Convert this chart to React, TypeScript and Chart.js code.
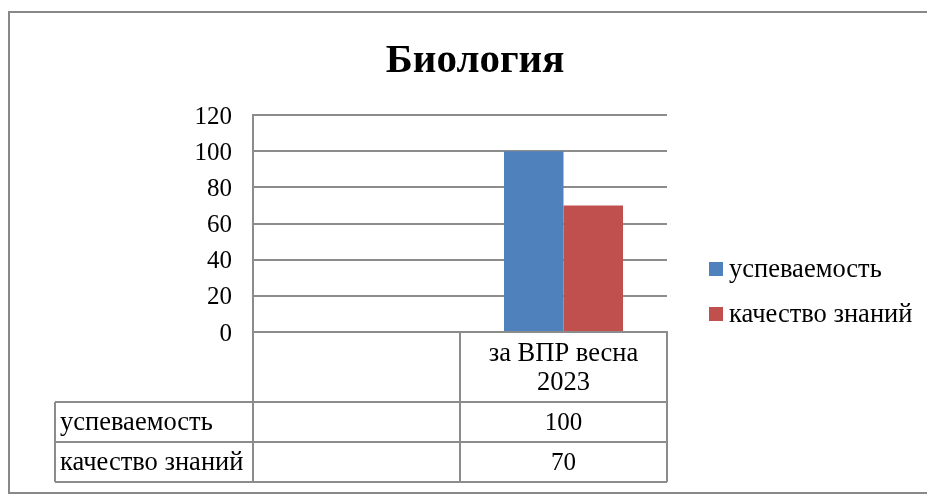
import { useEffect, useRef } from 'react';
import { Chart, registerables } from 'chart.js';

Chart.register(...registerables);

const TITLE = 'Биология';
const categories: (string | string[])[] = ['', ['за ВПР весна', '2023']];
const seriesNames = ['успеваемость', 'качество знаний'];
const uspevaemost: (number | null)[] = [null, 100];
const kachestvo: (number | null)[] = [null, 70];
const yMin = 0;
const yMax = 120;
const yStep = 20;
const seriesColors = ['#4F81BD', '#C0504D'];

const FONT = "'Liberation Serif', 'DejaVu Serif', 'Times New Roman', serif";
const GRID = '#8C8C8C';
const TXT = 26.5;
const NUM = 25;

const tablePlugin = {
  id: 'tableLegendFrame',
  afterDraw(chart: any) {
    const ctx: CanvasRenderingContext2D = chart.ctx;
    const x = chart.scales.x;
    const headerBottom = x.bottom;
    const rowH = 40;
    const labelLeft = 55;
    const n = chart.data.labels.length;
    const bounds: number[] = [];
    for (let i = 0; i <= n; i++) {
      if (i === 0) bounds.push(x.left);
      else if (i === n) bounds.push(x.right);
      else bounds.push((x.getPixelForTick(i - 1) + x.getPixelForTick(i)) / 2);
    }
    const nRows = chart.data.datasets.length;
    const tableBottom = headerBottom + rowH * nRows;
    ctx.save();
    ctx.strokeStyle = GRID;
    ctx.lineWidth = 2;
    ctx.beginPath();
    bounds.forEach((b) => {
      ctx.moveTo(b, x.top);
      ctx.lineTo(b, tableBottom);
    });
    ctx.moveTo(labelLeft, headerBottom);
    ctx.lineTo(labelLeft, tableBottom);
    for (let r = 0; r <= nRows; r++) {
      const yy = headerBottom + r * rowH;
      ctx.moveTo(labelLeft, yy);
      ctx.lineTo(x.right, yy);
    }
    ctx.stroke();

    ctx.fillStyle = '#000';
    ctx.textBaseline = 'middle';
    chart.data.datasets.forEach((ds: any, r: number) => {
      const cy = headerBottom + r * rowH + rowH / 2 + 1;
      ctx.font = `${TXT}px ${FONT}`;
      ctx.textAlign = 'left';
      ctx.fillText(ds.label, labelLeft + 5, cy);
      ctx.font = `${NUM}px ${FONT}`;
      ctx.textAlign = 'center';
      ds.data.forEach((v: number | null, i: number) => {
        if (v != null) ctx.fillText(String(v), x.getPixelForTick(i), cy);
      });
    });

    // legend
    ctx.font = `${TXT}px ${FONT}`;
    const lx = chart.chartArea.right + 42;
    const ly0 = 262;
    const gap = 45;
    chart.data.datasets.forEach((ds: any, r: number) => {
      const sy = ly0 + r * gap;
      ctx.fillStyle = ds.backgroundColor;
      ctx.fillRect(lx, sy, 14, 14);
      ctx.fillStyle = '#000';
      ctx.textAlign = 'left';
      ctx.fillText(ds.label, lx + 20, sy + 8);
    });

    // title
    ctx.font = `bold 41px ${FONT}`;
    ctx.textAlign = 'center';
    ctx.textBaseline = 'alphabetic';
    ctx.fillText(TITLE, 475, 72);

    // outer frame
    ctx.strokeStyle = '#888888';
    ctx.lineWidth = 2;
    ctx.strokeRect(9, 12, chart.width + 20, 481);
    ctx.restore();
  },
};

export default function App() {
  const ref = useRef<HTMLCanvasElement | null>(null);
  useEffect(() => {
    if (!ref.current) return;
    let chart: Chart | null = null;
    let cancelled = false;
    const make = () => {
      if (cancelled || !ref.current) return;
      Chart.defaults.color = '#000';
      chart = new Chart(ref.current, {
        type: 'bar',
        data: {
          labels: categories,
          datasets: [
            {
              label: seriesNames[0],
              data: uspevaemost,
              backgroundColor: seriesColors[0],
              categoryPercentage: 0.575,
              barPercentage: 1,
            },
            {
              label: seriesNames[1],
              data: kachestvo,
              backgroundColor: seriesColors[1],
              categoryPercentage: 0.575,
              barPercentage: 1,
            },
          ],
        },
        options: {
          animation: false,
          responsive: true,
          maintainAspectRatio: false,
          layout: { padding: { top: 115, left: 0, right: 260, bottom: 93 } },
          plugins: {
            legend: { display: false },
            tooltip: { enabled: false },
            title: { display: false },
          },
          scales: {
            x: {
              grid: { display: false },
              border: { display: true, color: GRID, width: 2 },
              ticks: {
                color: '#000',
                font: { family: FONT, size: TXT, lineHeight: '29px' },
                padding: 0,
                maxRotation: 0,
                autoSkip: false,
              },
              afterFit: (s: any) => {
                s.height = 70;
              },
            },
            y: {
              min: yMin,
              max: yMax,
              grid: { color: GRID, lineWidth: 2, drawTicks: false },
              border: { display: true, color: GRID, width: 2 },
              ticks: {
                stepSize: yStep,
                color: '#000',
                font: { family: FONT, size: NUM },
                padding: 21,
                labelOffset: 2,
              },
              afterFit: (s: any) => {
                s.width = 253;
              },
            },
          },
        },
        plugins: [tablePlugin],
      });
    };
    const fonts: any = (document as any).fonts;
    if (fonts && fonts.load) {
      Promise.all([
        fonts.load(`${TXT}px "Liberation Serif"`),
        fonts.load(`bold 41px "Liberation Serif"`),
      ])
        .catch(() => null)
        .then(make);
    } else {
      make();
    }
    return () => {
      cancelled = true;
      if (chart) chart.destroy();
    };
  }, []);
  return (
    <div style={{ position: 'absolute', left: 0, top: 0, width: 927, height: 495 }}>
      <canvas ref={ref} />
    </div>
  );
}
